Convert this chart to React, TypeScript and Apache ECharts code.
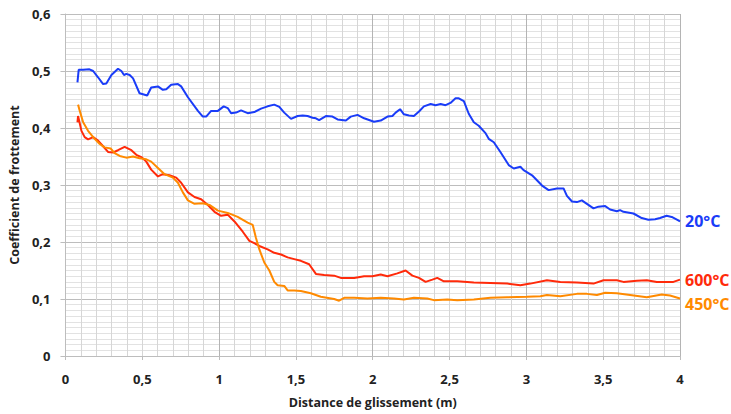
import React, { useEffect, useRef } from "react";
import * as echarts from "echarts";

const xTickLabels = ["0", "0,5", "1", "1,5", "2", "2,5", "3", "3,5", "4"];
const yTickLabels = ["0", "0,1", "0,2", "0,3", "0,4", "0,5", "0,6"];
const seriesNames = ["20°C", "600°C", "450°C"];

const blueX = [0.078, 0.086, 0.115, 0.156, 0.18, 0.212, 0.245, 0.266, 0.299, 0.342, 0.364, 0.381, 0.396, 0.418, 0.44, 0.482, 0.532, 0.558, 0.602, 0.634, 0.656, 0.688, 0.732, 0.753, 0.797, 0.862, 0.894, 0.916, 0.948, 0.992, 1.03, 1.056, 1.078, 1.11, 1.143, 1.186, 1.229, 1.273, 1.316, 1.359, 1.392, 1.424, 1.468, 1.511, 1.544, 1.576, 1.608, 1.63, 1.651, 1.695, 1.738, 1.771, 1.825, 1.857, 1.901, 1.944, 2.008, 2.052, 2.096, 2.128, 2.149, 2.178, 2.203, 2.236, 2.268, 2.301, 2.333, 2.377, 2.409, 2.442, 2.474, 2.506, 2.539, 2.56, 2.593, 2.625, 2.658, 2.69, 2.734, 2.755, 2.788, 2.831, 2.885, 2.918, 2.961, 2.982, 3.037, 3.102, 3.145, 3.199, 3.242, 3.264, 3.297, 3.329, 3.361, 3.394, 3.437, 3.469, 3.513, 3.545, 3.589, 3.61, 3.632, 3.697, 3.751, 3.794, 3.838, 3.87, 3.913, 3.946, 3.989, 4.0];
const blueY = [0.48, 0.502, 0.502, 0.503, 0.5, 0.489, 0.477, 0.478, 0.493, 0.504, 0.5, 0.493, 0.495, 0.493, 0.487, 0.461, 0.457, 0.471, 0.473, 0.467, 0.468, 0.476, 0.477, 0.473, 0.454, 0.43, 0.42, 0.42, 0.43, 0.43, 0.438, 0.435, 0.426, 0.427, 0.431, 0.426, 0.428, 0.434, 0.438, 0.441, 0.437, 0.427, 0.416, 0.421, 0.422, 0.421, 0.418, 0.417, 0.414, 0.421, 0.42, 0.415, 0.413, 0.42, 0.423, 0.417, 0.411, 0.413, 0.42, 0.421, 0.427, 0.433, 0.424, 0.422, 0.421, 0.429, 0.438, 0.442, 0.44, 0.442, 0.44, 0.444, 0.452, 0.452, 0.447, 0.425, 0.41, 0.404, 0.391, 0.381, 0.375, 0.358, 0.335, 0.329, 0.332, 0.326, 0.317, 0.299, 0.291, 0.294, 0.294, 0.281, 0.271, 0.27, 0.273, 0.267, 0.259, 0.262, 0.263, 0.257, 0.254, 0.256, 0.253, 0.25, 0.242, 0.239, 0.24, 0.242, 0.246, 0.244, 0.238, 0.236];

const redX = [0.078, 0.082, 0.104, 0.125, 0.147, 0.18, 0.212, 0.245, 0.277, 0.31, 0.342, 0.385, 0.429, 0.461, 0.494, 0.526, 0.558, 0.602, 0.634, 0.677, 0.721, 0.753, 0.797, 0.84, 0.883, 0.927, 0.97, 1.013, 1.056, 1.1, 1.154, 1.197, 1.229, 1.262, 1.316, 1.359, 1.403, 1.446, 1.489, 1.532, 1.586, 1.63, 1.684, 1.749, 1.792, 1.879, 1.944, 1.998, 2.052, 2.096, 2.16, 2.214, 2.258, 2.301, 2.344, 2.388, 2.42, 2.463, 2.55, 2.658, 2.766, 2.875, 2.961, 3.026, 3.134, 3.221, 3.329, 3.437, 3.502, 3.589, 3.632, 3.719, 3.784, 3.849, 3.957, 4.0];
const redY = [0.41, 0.421, 0.395, 0.384, 0.38, 0.384, 0.378, 0.368, 0.358, 0.357, 0.361, 0.367, 0.361, 0.353, 0.349, 0.341, 0.327, 0.315, 0.319, 0.317, 0.313, 0.304, 0.287, 0.279, 0.275, 0.265, 0.253, 0.246, 0.248, 0.236, 0.218, 0.202, 0.198, 0.193, 0.187, 0.181, 0.178, 0.173, 0.17, 0.167, 0.161, 0.144, 0.142, 0.141, 0.137, 0.137, 0.14, 0.14, 0.143, 0.14, 0.145, 0.15, 0.141, 0.137, 0.13, 0.134, 0.137, 0.131, 0.131, 0.129, 0.128, 0.127, 0.124, 0.127, 0.133, 0.13, 0.129, 0.127, 0.133, 0.133, 0.13, 0.132, 0.133, 0.13, 0.13, 0.134];

const orangeX = [0.082, 0.093, 0.115, 0.147, 0.19, 0.223, 0.255, 0.294, 0.32, 0.353, 0.396, 0.44, 0.482, 0.526, 0.558, 0.602, 0.645, 0.699, 0.732, 0.764, 0.797, 0.84, 0.894, 0.937, 0.992, 1.056, 1.121, 1.186, 1.219, 1.24, 1.262, 1.294, 1.327, 1.359, 1.381, 1.424, 1.446, 1.489, 1.532, 1.597, 1.662, 1.749, 1.781, 1.814, 1.879, 1.966, 2.052, 2.138, 2.203, 2.268, 2.355, 2.398, 2.485, 2.55, 2.658, 2.766, 2.875, 3.004, 3.091, 3.134, 3.221, 3.329, 3.394, 3.459, 3.513, 3.589, 3.675, 3.784, 3.881, 3.935, 4.0];
const orangeY = [0.441, 0.43, 0.41, 0.395, 0.381, 0.372, 0.366, 0.364, 0.356, 0.351, 0.348, 0.35, 0.347, 0.345, 0.341, 0.33, 0.319, 0.313, 0.304, 0.287, 0.273, 0.267, 0.268, 0.265, 0.255, 0.251, 0.244, 0.234, 0.23, 0.207, 0.187, 0.164, 0.15, 0.13, 0.124, 0.123, 0.115, 0.115, 0.114, 0.11, 0.104, 0.1, 0.097, 0.102, 0.102, 0.101, 0.102, 0.101, 0.099, 0.102, 0.101, 0.098, 0.099, 0.098, 0.099, 0.102, 0.103, 0.104, 0.105, 0.107, 0.105, 0.109, 0.109, 0.107, 0.111, 0.11, 0.107, 0.103, 0.108, 0.106, 0.101];

const colors = ["#1a3cf8", "#ff2a0a", "#ff8a00"];
const FONT = "'Open Sans', 'DejaVu Sans', sans-serif";

const zip = (xs: number[], ys: number[]) => xs.map((x, i) => [x, ys[i]]);

export default function App() {
  const ref = useRef<HTMLDivElement>(null);
  useEffect(() => {
    if (!ref.current) return;
    const chart = echarts.init(ref.current, undefined, { renderer: "svg" });
    const fmtX = (v: number) => xTickLabels[Math.round(v * 2)] ?? "";
    const fmtY = (v: number) => yTickLabels[Math.round(v * 10)] ?? "";
    const mkSeries = (i: number, data: number[][], offsetY: number) => ({
      type: "line",
      name: seriesNames[i],
      data,
      showSymbol: false,
      symbol: "none",
      xAxisIndex: 0,
      lineStyle: { color: colors[i], width: 2 },
      itemStyle: { color: colors[i] },
      endLabel: {
        show: true,
        formatter: () => seriesNames[i],
        color: colors[i],
        fontFamily: FONT,
        fontWeight: "bold",
        fontSize: 16,
        distance: 5,
        offset: [0, offsetY],
      },
      z: 3 + i,
    });
    chart.setOption({
      animation: false,
      grid: { left: 64, right: 51, top: 14, bottom: 50, containLabel: false },
      xAxis: [
        {
          type: "value",
          min: 0,
          max: 4,
          interval: 0.5,
          name: "Distance de glissement (m)",
          nameLocation: "middle",
          nameGap: 40,
          nameTextStyle: { fontFamily: FONT, fontWeight: "bold", fontSize: 12.5, color: "#222" },
          axisLine: { show: true, lineStyle: { color: "#bdbdbd", width: 1 } },
          axisTick: { show: true, length: 4, lineStyle: { color: "#bdbdbd" } },
          axisLabel: { formatter: fmtX, fontFamily: FONT, fontWeight: "bold", fontSize: 13, color: "#222", margin: 16 },
          splitLine: { show: true, lineStyle: { color: "#d6d6d6", width: 1 } },
          minorTick: { show: false, splitNumber: 5 },
          minorSplitLine: { show: true, lineStyle: { color: "#d6d6d6", width: 1 } },
        },
        {
          type: "value",
          min: 0,
          max: 4,
          interval: 1,
          position: "bottom",
          axisLine: { show: false },
          axisTick: { show: false },
          axisLabel: { show: false },
          splitLine: { show: true, lineStyle: { color: "#b4b4b4", width: 1 } },
        },
      ],
      yAxis: {
        type: "value",
        min: 0,
        max: 0.6,
        interval: 0.1,
        name: "Coefficient de frottement",
        nameLocation: "middle",
        nameGap: 31,
        nameTextStyle: { fontFamily: FONT, fontWeight: "bold", fontSize: 12.5, color: "#222" },
        axisLine: { show: true, lineStyle: { color: "#bdbdbd", width: 1 } },
        axisTick: { show: true, length: 5, lineStyle: { color: "#bdbdbd" } },
        axisLabel: { formatter: fmtY, fontFamily: FONT, fontWeight: "bold", fontSize: 13, color: "#222", margin: 15 },
        splitLine: { show: true, lineStyle: { color: "#bdbdbd", width: 1 } },
        minorTick: { show: false, splitNumber: 10 },
        minorSplitLine: { show: true, lineStyle: { color: "#e2e2e2", width: 1 } },
      },
      series: [
        mkSeries(0, zip(blueX, blueY), 0),
        mkSeries(1, zip(redX, redY), 0),
        mkSeries(2, zip(orangeX, orangeY), 6),
      ],
    });
    return () => chart.dispose();
  }, []);
  return <div ref={ref} style={{ width: 731, height: 414, position: "absolute", left: 0, top: 0 }} />;
}
